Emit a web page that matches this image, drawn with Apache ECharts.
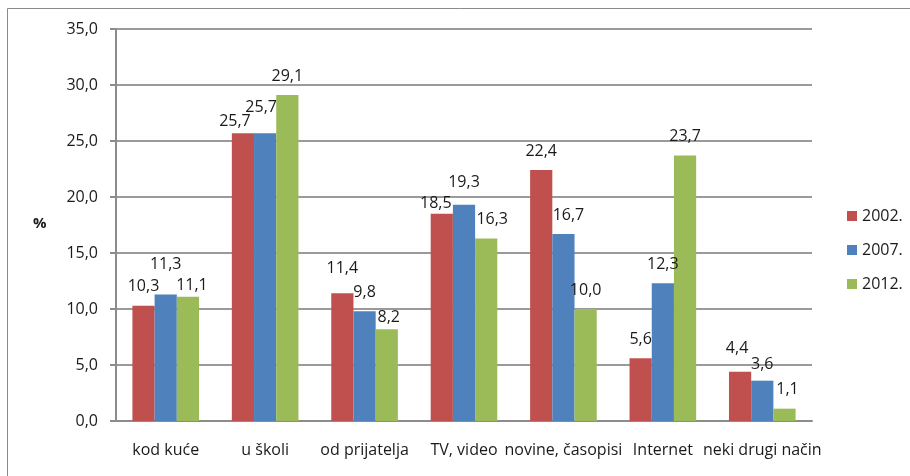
<!DOCTYPE html>
<html>
<head>
<meta charset="utf-8">
<script src="https://cdn.jsdelivr.net/npm/echarts@6/dist/echarts.min.js"></script>
<style>
  html, body { margin: 0; padding: 0; background: #fff; }
  #chart { width: 910px; height: 476px; }
</style>
</head>
<body>
<div id="chart"></div>
<script>
const categories = ['kod kuće', 'u školi', 'od prijatelja', 'TV, video', 'novine, časopisi', 'Internet', 'neki drugi način']
const years = ['2002.', '2007.', '2012.']
const values2002 = [10.3, 25.7, 11.4, 18.5, 22.4, 5.6, 4.4]
const values2007 = [11.3, 25.7, 9.8, 19.3, 16.7, 12.3, 3.6]
const values2012 = [11.1, 29.1, 8.2, 16.3, 10.0, 23.7, 1.1]
const colors = ['#C0504D', '#4F81BD', '#9BBB59']

// hand-moved data labels in the original, [dx, dy] per point
const labelNudges = [
  [[0, 0], [-8, 7], [0, -6], [-6, 9], [0, 0], [0, 0], [-3, -4]],
  [[0, -11], [-4, -7], [0, 0], [0, -3], [5, 0], [0, 0], [0, 3]],
  [[4, 8], [0, 0], [2, 7], [6, 0], [0, 0], [0, 0], [3, 0]]
]

const font = '"Open Sans", "Noto Sans", sans-serif'
const fmt = (v) => v.toFixed(1).replace('.', ',')

const chart = echarts.init(document.getElementById('chart'))

const series = [values2002, values2007, values2012].map((vals, i) => ({
  name: years[i],
  type: 'bar',
  data: vals.map((v, j) => ({ value: v, label: { offset: labelNudges[i][j] } })),
  barGap: '0%',
  barCategoryGap: '33%',
  itemStyle: { color: colors[i] },
  label: {
    show: true,
    position: 'top',
    distance: 11,
    color: '#1a1a1a',
    fontFamily: font,
    fontSize: 16,
    formatter: (p) => fmt(p.value)
  }
}))

chart.setOption({
  animation: false,
  textStyle: { fontFamily: font },
  graphic: [{
    type: 'rect',
    shape: { x: 7.5, y: 8.5, width: 920, height: 500 },
    style: { fill: 'none', stroke: '#8a8a8a', lineWidth: 1 },
    silent: true
  }, {
    type: 'text',
    left: 33,
    top: 216,
    style: { text: '%', font: 'bold 15px ' + font, fill: '#1a1a1a' }
  }],
  legend: {
    orient: 'vertical',
    left: 842,
    top: 203,
    itemWidth: 10,
    itemHeight: 10,
    itemGap: 18,
    icon: 'rect',
    textStyle: { fontSize: 16, color: '#1a1a1a', fontFamily: font },
    data: years
  },
  grid: { left: 116, right: 98, top: 29, bottom: 55 },
  xAxis: {
    type: 'category',
    data: categories,
    axisLine: { lineStyle: { color: '#8c8c8c', width: 2 } },
    axisTick: { show: false },
    axisLabel: { color: '#1a1a1a', fontSize: 16, margin: 21, interval: 0 }
  },
  yAxis: {
    type: 'value',
    min: 0,
    max: 35,
    interval: 5,
    axisLine: { show: true, lineStyle: { color: '#8c8c8c', width: 2 } },
    axisTick: { show: true, length: 6, lineStyle: { color: '#8c8c8c', width: 2 } },
    axisLabel: { color: '#1a1a1a', fontSize: 16, margin: 18, formatter: (v) => fmt(v) },
    splitLine: { lineStyle: { color: '#9a9a9a', width: 2 } }
  },
  series
})
</script>
</body>
</html>
